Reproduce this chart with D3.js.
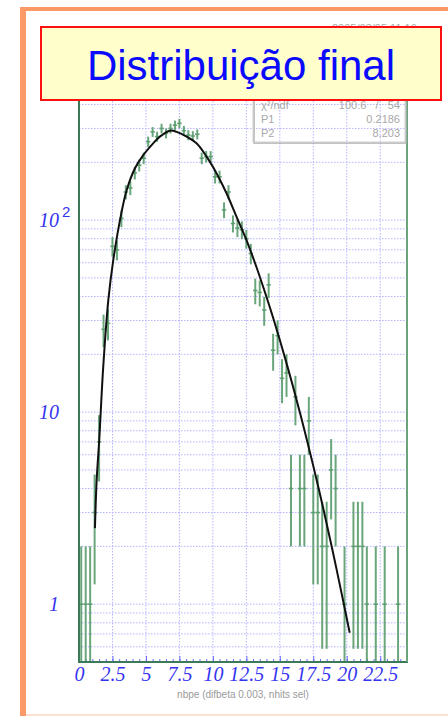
<!DOCTYPE html>
<html>
<head>
<meta charset="utf-8">
<script src="https://cdn.jsdelivr.net/npm/d3@7"></script>
<style>
  html, body { margin: 0; padding: 0; background: #fff; }
  svg { display: block; }
</style>
</head>
<body>
<svg id="chart" width="448" height="716"></svg>
<script>
// Histogram of nbpe: counts per bin (bin width 1/3, starting at 0)
const binLow = 0;
const binWidth = 1 / 3;
const counts = [
  1, 1, 1, 3, 7, 27, 29, 73, 70, 102,
  140, 147, 176, 193, 210, 256, 288, 272, 300, 283,
  300, 312, 319, 292, 277, 274, 280, 210, 214, 214,
  168, 168, 113, 140, 96, 91, 89, 80, 67, 43,
  42, 34, 46, 21, 25, 15, 16, 4, 12, 4,
  4, 9, 3, 3, 2, 2, 5, 4, 0, 1,
  0, 2, 2, 2, 1, 0, 1, 0, 1, 0,
  0, 1, 0
];

// Fitted curve, sampled along nbpe
const fitX = [1.19, 1.32, 1.51, 1.81, 2.19, 2.56, 3.19, 3.56, 4.18, 4.8,
              5.54, 6.04, 6.79, 7.29, 8.04, 8.78, 9.53, 10.28, 11.02, 11.77,
              12.51, 13.26, 14.0, 14.5, 15.5, 16.5, 17.5, 18.25, 19.0, 19.72, 20.22];
const fitY = [2.49, 4.42, 7.15, 17.2, 38.3, 61.9, 111, 143, 186, 218,
              251, 272, 292, 288, 272, 251, 214, 175, 138, 104,
              78.7, 56.8, 39.9, 31.0, 18.0, 9.97, 5.25, 3.14, 1.82, 1.05, 0.71];

// Axis ticks
const xMajorTicks = [0, 2.5, 5, 7.5, 10, 12.5, 15, 17.5, 20, 22.5];
const yLabelValues = [1, 10, 100];
const yLabelBase = ["1", "10", "10"];
const yLabelExp = ["", "", "2"];

// Fit statistics
const statNames = ["\u03C7\u00B2/ndf", "P1", "P2"];
const statValues = ["100.6   /   54", "0.2186", "8.203"];

const titleText = "Distribuição final";
const xTitle = "nbpe (difbeta 0.003, nhits sel)";
const stampText = "2005/03/05   11:16";

const svg = d3.select("#chart");
const plot = { left: 79, right: 407, top: 95, bottom: 662 };

const x = d3.scaleLinear().domain([0, 24.5]).range([plot.left, plot.right]);
const y = d3.scaleLog().domain([0.5, 448]).range([plot.bottom, plot.top]);

const blue = "#3434f0";
const gridColor = "#b4b4ff";
const markColor = "#5a9c6d";
const frameColor = "#3b7a58";

// slide frame
svg.append("rect").attr("x", 20).attr("y", 7).attr("width", 6).attr("height", 709).attr("fill", "#fb9a66");
svg.append("rect").attr("x", 20).attr("y", 7).attr("width", 428).attr("height", 4).attr("fill", "#fb9a66");
svg.append("rect").attr("x", 26).attr("y", 714).attr("width", 422).attr("height", 2).attr("fill", "#fde0d0");

// time stamp (top right, mostly covered)
svg.append("text").attr("x", 332).attr("y", 32)
  .attr("font-family", "Liberation Sans, Arial, sans-serif").attr("font-size", 11)
  .attr("fill", "#aaa").text(stampText);

svg.append("defs").append("clipPath").attr("id", "plotClip")
  .append("rect").attr("x", plot.left).attr("y", plot.top)
  .attr("width", plot.right - plot.left).attr("height", plot.bottom - plot.top);

// grid
const gGrid = svg.append("g");
const yGridVals = [];
[0.1, 1, 10, 100].forEach(dec => {
  for (let m = 1; m <= 9; m++) {
    const v = dec * m;
    if (v > 0.5 && v < 448) yGridVals.push(v);
  }
});
gGrid.selectAll("line.h").data(yGridVals).join("line")
  .attr("x1", plot.left).attr("x2", plot.right)
  .attr("y1", d => y(d)).attr("y2", d => y(d))
  .attr("stroke", gridColor).attr("stroke-width", 1).attr("stroke-dasharray", "1.5,1.5");
gGrid.selectAll("line.v").data(xMajorTicks.filter(d => d > 0)).join("line")
  .attr("y1", plot.top).attr("y2", plot.bottom)
  .attr("x1", d => x(d)).attr("x2", d => x(d))
  .attr("stroke", gridColor).attr("stroke-width", 1).attr("stroke-dasharray", "1.5,1.5");

// x axis minor and major ticks (pointing inward)
const minorTicks = d3.range(0, 24.5, 0.5);
const axisMinor = d3.axisBottom(x).tickValues(minorTicks).tickSize(-3).tickFormat("");
const gMinor = svg.append("g").attr("transform", `translate(0,${plot.bottom})`).call(axisMinor);
gMinor.select(".domain").remove();
gMinor.selectAll("line").attr("stroke", "#6a6aff");

const axisMajor = d3.axisBottom(x).tickValues(xMajorTicks).tickSize(-6).tickPadding(5)
  .tickFormat(d => String(d));
const gMajor = svg.append("g").attr("transform", `translate(0,${plot.bottom})`).call(axisMajor);
gMajor.select(".domain").remove();
gMajor.selectAll("line").attr("stroke", "#6a6aff");
gMajor.selectAll("text")
  .attr("font-family", "Liberation Serif, Times New Roman, serif")
  .attr("font-style", "italic").attr("font-size", 20).attr("fill", blue)
  .attr("dy", "0.71em");

// y labels
const gY = svg.append("g");
yLabelValues.forEach((v, i) => {
  gY.append("text").attr("x", 59).attr("y", y(v) + 7)
    .attr("text-anchor", "end")
    .attr("font-family", "Liberation Serif, Times New Roman, serif")
    .attr("font-style", "italic").attr("font-size", 20).attr("fill", blue)
    .text(yLabelBase[i]);
  if (yLabelExp[i]) {
    gY.append("text").attr("x", 62).attr("y", y(v) - 3)
      .attr("font-family", "Liberation Sans, Arial, sans-serif")
      .attr("font-size", 15).attr("fill", blue).text(yLabelExp[i]);
  }
});

// x title
svg.append("text").attr("x", 243).attr("y", 698).attr("text-anchor", "middle")
  .attr("font-family", "Liberation Sans, Arial, sans-serif").attr("font-size", 10)
  .attr("fill", "#9a9a9a").text(xTitle);

// histogram points with error bars
const bins = counts.map((n, i) => ({
  lo: binLow + i * binWidth,
  hi: binLow + (i + 1) * binWidth,
  c: binLow + (i + 0.5) * binWidth,
  n: n
})).filter(d => d.n > 0);

const gData = svg.append("g").attr("clip-path", "url(#plotClip)");
gData.selectAll("line.err").data(bins).join("line")
  .attr("x1", d => x(d.c)).attr("x2", d => x(d.c))
  .attr("y1", d => y(d.n + Math.sqrt(d.n)))
  .attr("y2", d => (d.n - Math.sqrt(d.n)) > 0.5 ? y(d.n - Math.sqrt(d.n)) : plot.bottom + 5)
  .attr("stroke", markColor).attr("stroke-width", 2).attr("stroke-opacity", 0.9);
gData.selectAll("line.bin").data(bins).join("line")
  .attr("x1", d => x(d.lo)).attr("x2", d => x(d.hi))
  .attr("y1", d => y(d.n)).attr("y2", d => y(d.n))
  .attr("stroke", markColor).attr("stroke-width", 1.6).attr("stroke-opacity", 0.9);

// fit curve
const fitPts = fitX.map((v, i) => [v, fitY[i]]);
const line = d3.line().x(d => x(d[0])).y(d => y(d[1])).curve(d3.curveCatmullRom.alpha(0.5));
gData.append("path").attr("d", line(fitPts))
  .attr("fill", "none").attr("stroke", "#111").attr("stroke-width", 2);

// frame
svg.append("line").attr("x1", plot.left).attr("x2", plot.left).attr("y1", plot.top).attr("y2", plot.bottom + 1)
  .attr("stroke", frameColor).attr("stroke-width", 2);
svg.append("line").attr("x1", plot.left - 1).attr("x2", plot.right + 1).attr("y1", plot.bottom).attr("y2", plot.bottom)
  .attr("stroke", frameColor).attr("stroke-width", 2);
svg.append("line").attr("x1", plot.right).attr("x2", plot.right).attr("y1", plot.top).attr("y2", plot.bottom)
  .attr("stroke", "#6aa47c").attr("stroke-width", 2);

// stats box
const sb = { x: 253, y: 84, w: 152, h: 58 };
svg.append("rect").attr("x", sb.x + 1).attr("y", sb.y + 1).attr("width", sb.w).attr("height", sb.h)
  .attr("fill", "none").attr("stroke", "#b0b0b0").attr("stroke-width", 1.5);
svg.append("rect").attr("x", sb.x).attr("y", sb.y).attr("width", sb.w).attr("height", sb.h)
  .attr("fill", "none").attr("stroke", "#d0d0d0").attr("stroke-width", 1);
statNames.forEach((s, i) => {
  const yy = 109 + i * 14;
  svg.append("text").attr("x", 261).attr("y", yy)
    .attr("font-family", "Liberation Sans, Arial, sans-serif").attr("font-size", 11)
    .attr("fill", "#a8a8a8").text(s);
  svg.append("text").attr("x", 400).attr("y", yy).attr("text-anchor", "end")
    .attr("xml:space", "preserve").style("white-space", "pre")
    .attr("font-family", "Liberation Sans, Arial, sans-serif").attr("font-size", 11)
    .attr("fill", "#a8a8a8").text(statValues[i]);
});

// title box
svg.append("rect").attr("x", 41).attr("y", 27).attr("width", 400).attr("height", 73)
  .attr("fill", "#ffffcc").attr("stroke", "#ff1010").attr("stroke-width", 2);
svg.append("text").attr("x", 241).attr("y", 80).attr("text-anchor", "middle")
  .attr("font-family", "Liberation Sans, Arial, sans-serif").attr("font-size", 42)
  .attr("fill", "#0a0aff").text(titleText);
</script>
</body>
</html>
